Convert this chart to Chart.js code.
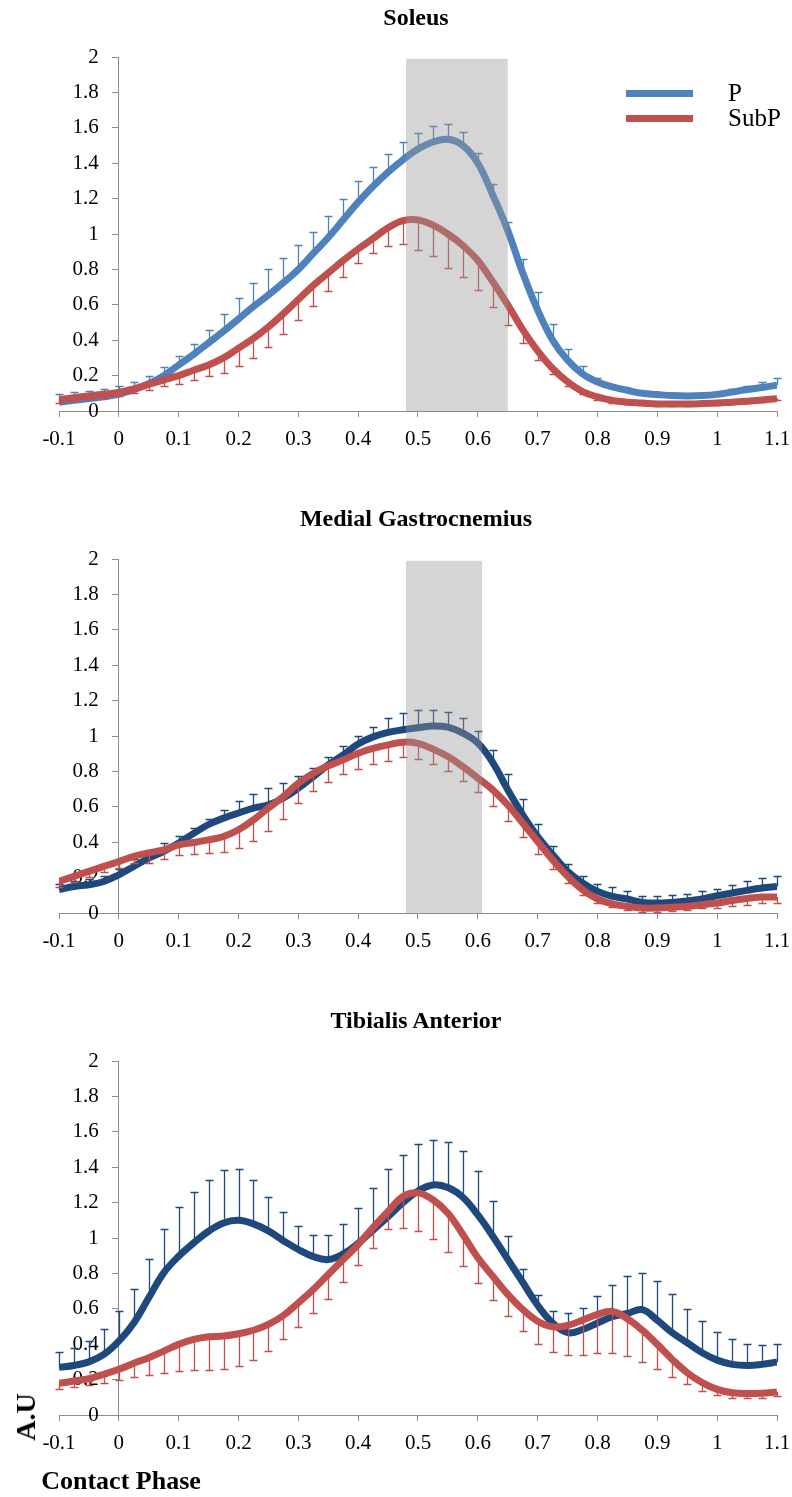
<!DOCTYPE html>
<html>
<head>
<meta charset="utf-8">
<title>Soleus / Medial Gastrocnemius / Tibialis Anterior</title>
<script src="https://cdn.jsdelivr.net/npm/chart.js@4.4.1/dist/chart.umd.min.js"></script>
<style>
  body { margin: 0; background: #fff; }
  #page { position: relative; width: 792px; height: 1497px; font-family: "Liberation Serif", "Times New Roman", serif; color: #000; }
  .panel { position: absolute; left: 0; width: 792px; height: 502px; }
  .panel canvas { position: absolute; left: 0; top: 0; }
  .txt { position: absolute; line-height: 1; white-space: nowrap; }
  .title { font-weight: bold; font-size: 24px; transform: translate(-50%, -50%); }
  .legbar { position: absolute; width: 67px; height: 7px; }
  .leglabel { font-size: 25px; transform: translateY(-50%); }
</style>
</head>
<body>
<div id="page">
  <div class="panel" style="top:0px"><canvas id="c1" width="792" height="502"></canvas></div>
  <div class="panel" style="top:502px"><canvas id="c2" width="792" height="502"></canvas></div>
  <div class="panel" style="top:1004px"><canvas id="c3" width="792" height="502"></canvas></div>

  <div class="txt title" style="left:416px; top:16.5px">Soleus</div>
  <div class="txt title" style="left:416px; top:518px">Medial Gastrocnemius</div>
  <div class="txt title" style="left:416px; top:1020px">Tibialis Anterior</div>

  <div id="legend"></div>

  <div class="txt" style="left:26px; top:1417px; font-weight:bold; font-size:28px; transform: translate(-50%, -50%) rotate(-90deg);">A.U</div>
  <div class="txt" style="left:121px; top:1481px; font-weight:bold; font-size:26px; transform: translate(-50%, -50%);">Contact Phase</div>
</div>

<script>
// contact phase, one point every 0.025
const phase = [-0.1, -0.075, -0.05, -0.025, 0, 0.025, 0.05, 0.075, 0.1, 0.125, 0.15, 0.175, 0.2, 0.225,
  0.25, 0.275, 0.3, 0.325, 0.35, 0.375, 0.4, 0.425, 0.45, 0.475, 0.5, 0.525, 0.55, 0.575, 0.6, 0.625,
  0.65, 0.675, 0.7, 0.725, 0.75, 0.775, 0.8, 0.825, 0.85, 0.875, 0.9, 0.925, 0.95, 0.975, 1, 1.025,
  1.05, 1.075, 1.1];

const xTicks = [-0.1, 0, 0.1, 0.2, 0.3, 0.4, 0.5, 0.6, 0.7, 0.8, 0.9, 1, 1.1];
const yTicks = [0, 0.2, 0.4, 0.6, 0.8, 1, 1.2, 1.4, 1.6, 1.8, 2];
const seriesNames = ['P', 'SubP'];

// Soleus
const soleusP = [0.05, 0.06, 0.07, 0.08, 0.095, 0.12, 0.155, 0.20, 0.26, 0.32, 0.385, 0.45, 0.52, 0.59,
  0.655, 0.725, 0.80, 0.89, 0.98, 1.08, 1.18, 1.27, 1.35, 1.42, 1.48, 1.52, 1.535, 1.50, 1.40, 1.22,
  1.02, 0.78, 0.57, 0.40, 0.287, 0.21, 0.164, 0.136, 0.117, 0.10, 0.093, 0.087, 0.085, 0.087, 0.094,
  0.107, 0.121, 0.133, 0.145];
const soleusPErr = [0.045, 0.045, 0.045, 0.045, 0.045, 0.045, 0.045, 0.05, 0.05, 0.06, 0.075, 0.10, 0.12,
  0.135, 0.145, 0.14, 0.137, 0.12, 0.12, 0.116, 0.12, 0.11, 0.10, 0.10, 0.09, 0.09, 0.085, 0.075, 0.056,
  0.06, 0.05, 0.08, 0.10, 0.094, 0.066, 0.043, 0.023, 0.01, 0.01, 0.01, 0.01, 0.01, 0.01, 0.01, 0.012,
  0.02, 0.023, 0.03, 0.04];
const soleusS = [0.065, 0.075, 0.085, 0.095, 0.105, 0.125, 0.15, 0.175, 0.20, 0.23, 0.26, 0.30, 0.355,
  0.41, 0.475, 0.55, 0.63, 0.71, 0.78, 0.85, 0.915, 0.975, 1.035, 1.075, 1.08, 1.05, 1.00, 0.935, 0.85,
  0.73, 0.60, 0.46, 0.34, 0.24, 0.165, 0.11, 0.08, 0.06, 0.05, 0.045, 0.04, 0.04, 0.04, 0.042, 0.045,
  0.05, 0.055, 0.062, 0.07];
const soleusSErr = [0.02, 0.02, 0.02, 0.02, 0.02, 0.025, 0.03, 0.035, 0.045, 0.056, 0.064, 0.083, 0.10,
  0.11, 0.113, 0.113, 0.117, 0.118, 0.103, 0.094, 0.08, 0.085, 0.10, 0.13, 0.17, 0.175, 0.19, 0.18,
  0.167, 0.142, 0.115, 0.075, 0.05, 0.033, 0.022, 0.016, 0.02, 0.015, 0.01, 0.01, 0.01, 0.01, 0.01,
  0.01, 0.01, 0.01, 0.01, 0.01, 0.01];
const soleusBand = [0.48, 0.65];

// Medial Gastrocnemius
const gastroP = [0.132, 0.15, 0.16, 0.178, 0.216, 0.263, 0.31, 0.348, 0.395, 0.45, 0.50, 0.536, 0.565,
  0.593, 0.611, 0.65, 0.705, 0.77, 0.837, 0.893, 0.955, 0.995, 1.02, 1.035, 1.047, 1.057, 1.05, 1.016,
  0.96, 0.85, 0.696, 0.555, 0.432, 0.33, 0.235, 0.17, 0.122, 0.094, 0.079, 0.06, 0.056, 0.06, 0.068,
  0.079, 0.098, 0.113, 0.128, 0.141, 0.15];
const gastroPErr = [0.03, 0.03, 0.03, 0.03, 0.035, 0.042, 0.043, 0.047, 0.041, 0.03, 0.032, 0.047, 0.065,
  0.079, 0.094, 0.087, 0.07, 0.052, 0.043, 0.05, 0.045, 0.058, 0.08, 0.093, 0.10, 0.09, 0.087, 0.084,
  0.07, 0.07, 0.09, 0.088, 0.07, 0.046, 0.042, 0.037, 0.043, 0.051, 0.047, 0.034, 0.038, 0.04, 0.041,
  0.043, 0.037, 0.047, 0.05, 0.056, 0.057];
const gastroS = [0.178, 0.207, 0.235, 0.263, 0.29, 0.32, 0.34, 0.357, 0.385, 0.398, 0.413, 0.432, 0.47,
  0.526, 0.593, 0.658, 0.733, 0.79, 0.831, 0.865, 0.903, 0.93, 0.95, 0.965, 0.958, 0.926, 0.884, 0.827,
  0.762, 0.696, 0.611, 0.508, 0.404, 0.30, 0.207, 0.131, 0.079, 0.052, 0.037, 0.028, 0.028, 0.032,
  0.037, 0.047, 0.056, 0.071, 0.082, 0.09, 0.09];
const gastroSErr = [0.03, 0.03, 0.03, 0.03, 0.035, 0.04, 0.06, 0.05, 0.06, 0.065, 0.075, 0.085, 0.10,
  0.12, 0.13, 0.126, 0.11, 0.10, 0.09, 0.08, 0.09, 0.09, 0.09, 0.085, 0.09, 0.083, 0.08, 0.08, 0.08,
  0.09, 0.09, 0.08, 0.07, 0.05, 0.04, 0.03, 0.025, 0.02, 0.02, 0.02, 0.02, 0.02, 0.02, 0.02, 0.025,
  0.03, 0.035, 0.035, 0.035];
const gastroBand = [0.48, 0.607];

// Tibialis Anterior
const tibialisP = [0.27, 0.28, 0.30, 0.342, 0.417, 0.52, 0.662, 0.803, 0.897, 0.972, 1.038, 1.085, 1.10,
  1.08, 1.04, 0.985, 0.935, 0.895, 0.878, 0.91, 0.97, 1.045, 1.12, 1.20, 1.265, 1.30, 1.285, 1.23, 1.13,
  1.01, 0.88, 0.75, 0.62, 0.52, 0.465, 0.483, 0.52, 0.555, 0.574, 0.595, 0.535, 0.465, 0.408, 0.352,
  0.31, 0.286, 0.28, 0.286, 0.299];
const tibialisPErr = [0.085, 0.10, 0.12, 0.145, 0.17, 0.19, 0.22, 0.25, 0.28, 0.29, 0.29, 0.30, 0.29,
  0.25, 0.19, 0.16, 0.13, 0.12, 0.14, 0.17, 0.20, 0.235, 0.27, 0.27, 0.267, 0.255, 0.255, 0.26, 0.25,
  0.20, 0.13, 0.076, 0.06, 0.07, 0.11, 0.12, 0.15, 0.18, 0.21, 0.21, 0.22, 0.22, 0.19, 0.18, 0.16,
  0.145, 0.12, 0.11, 0.10];
const tibialisS = [0.179, 0.192, 0.205, 0.23, 0.258, 0.292, 0.324, 0.361, 0.399, 0.427, 0.442, 0.446,
  0.459, 0.479, 0.512, 0.562, 0.634, 0.709, 0.794, 0.878, 0.963, 1.06, 1.15, 1.235, 1.255, 1.216, 1.14,
  1.02, 0.888, 0.784, 0.681, 0.596, 0.53, 0.498, 0.506, 0.536, 0.568, 0.585, 0.544, 0.479, 0.399,
  0.314, 0.239, 0.183, 0.145, 0.126, 0.121, 0.123, 0.13];
const tibialisSErr = [0.03, 0.034, 0.038, 0.047, 0.062, 0.078, 0.10, 0.126, 0.151, 0.173, 0.188, 0.184,
  0.183, 0.169, 0.151, 0.135, 0.135, 0.132, 0.138, 0.128, 0.113, 0.116, 0.10, 0.18, 0.217, 0.22, 0.22,
  0.18, 0.14, 0.135, 0.123, 0.122, 0.127, 0.14, 0.168, 0.196, 0.22, 0.237, 0.211, 0.18, 0.141, 0.097,
  0.066, 0.048, 0.034, 0.028, 0.027, 0.025, 0.023];

const lightBlue = '#4F81BD';
const darkBlue = '#1F497D';
const red = '#C0504D';
const axisGray = '#8c8c8c';
const yLabelEdge = -0.0335; // right edge of the y tick labels, in phase units

Chart.defaults.font.family = '"Liberation Serif", "Times New Roman", serif';
Chart.defaults.color = '#000';

const fmt = v => String(Math.round(v * 10) / 10);

// vertical error bars, one direction only (P up, SubP down)
const errorBars = {
  id: 'errorBars',
  afterDatasetDraw(chart, args) {
    const ds = chart.data.datasets[args.index];
    if (!ds.errors) return;
    const xs = chart.scales.x, ys = chart.scales.y, ctx = chart.ctx;
    ctx.save();
    ctx.strokeStyle = ds.borderColor;
    ctx.lineWidth = 1.3;
    ds.data.forEach((p, i) => {
      const px = Math.round(xs.getPixelForValue(p.x)) + 0.5;
      const y0 = ys.getPixelForValue(p.y);
      const y1 = Math.round(ys.getPixelForValue(p.y + ds.errDir * ds.errors[i])) + 0.5;
      ctx.beginPath();
      ctx.moveTo(px, y0);
      ctx.lineTo(px, y1);
      ctx.moveTo(px - 4, y1);
      ctx.lineTo(px + 4, y1);
      ctx.stroke();
    });
    ctx.restore();
  }
};

// grey translucent band drawn over the curves
const bandShade = {
  id: 'bandShade',
  afterDatasetsDraw(chart, args, opts) {
    if (!opts.range) return;
    const xs = chart.scales.x, ys = chart.scales.y, ctx = chart.ctx;
    const l = xs.getPixelForValue(opts.range[0]);
    const r = xs.getPixelForValue(opts.range[1]);
    const t = ys.getPixelForValue(opts.top);
    const b = ys.getPixelForValue(0);
    ctx.save();
    ctx.fillStyle = opts.color;
    ctx.fillRect(l, t, r - l, b - t);
    ctx.restore();
  }
};

function series(values, errors, dir, color, label, order) {
  return {
    label: label,
    data: phase.map((x, i) => ({ x: x, y: values[i] })),
    errors: errors,
    errDir: dir,
    borderColor: color,
    borderWidth: 7,
    borderCapStyle: 'butt',
    borderJoinStyle: 'round',
    pointRadius: 0,
    tension: 0.4,
    fill: false,
    order: order,
    clip: { left: 0, right: 0, top: 10, bottom: 10 }
  };
}

function makePanel(id, pVals, pErr, sVals, sErr, pColor, band) {
  new Chart(document.getElementById(id), {
    type: 'line',
    data: {
      datasets: [
        series(pVals, pErr, 1, pColor, seriesNames[0], 1),
        series(sVals, sErr, -1, red, seriesNames[1], 0)
      ]
    },
    options: {
      responsive: false,
      animation: false,
      layout: { padding: { left: 59, right: 15, top: 57, bottom: 0 } },
      plugins: {
        legend: { display: false },
        tooltip: { enabled: false },
        bandShade: band ? { range: band, top: 1.99, color: 'rgba(150,150,150,0.4)' } : false
      },
      scales: {
        x: {
          type: 'linear',
          min: -0.1,
          max: 1.1,
          afterBuildTicks: s => { s.ticks = xTicks.map(v => ({ value: v })); },
          afterFit: s => { s.height = 91; s.paddingLeft = 0; s.paddingRight = 0; },
          grid: { drawOnChartArea: false, drawTicks: true, tickLength: 6, color: axisGray },
          border: { color: axisGray, width: 1 },
          ticks: { font: { size: 21 }, padding: 10, maxRotation: 0, autoSkip: false, callback: v => fmt(v) }
        },
        // axis line + tick marks through x = 0
        y: {
          type: 'linear',
          min: 0,
          max: 2,
          position: { x: 0 },
          afterBuildTicks: s => { s.ticks = yTicks.map(v => ({ value: v })); },
          grid: { drawOnChartArea: false, drawTicks: true, tickLength: 6, color: axisGray },
          border: { color: axisGray, width: 1 },
          ticks: { display: false }
        },
        // tick labels, right-aligned a little left of the axis
        yLabels: {
          type: 'linear',
          min: 0,
          max: 2,
          position: { x: yLabelEdge },
          afterBuildTicks: s => { s.ticks = yTicks.map(v => ({ value: v })); },
          grid: { display: false },
          border: { display: false },
          ticks: { font: { size: 21 }, autoSkip: false, callback: v => fmt(v) }
        }
      }
    },
    plugins: [errorBars, bandShade]
  });
}

makePanel('c1', soleusP, soleusPErr, soleusS, soleusSErr, lightBlue, soleusBand);
makePanel('c2', gastroP, gastroPErr, gastroS, gastroSErr, darkBlue, gastroBand);
makePanel('c3', tibialisP, tibialisPErr, tibialisS, tibialisSErr, darkBlue, null);

// legend (top panel only)
const legend = document.getElementById('legend');
[[seriesNames[0], lightBlue, 93], [seriesNames[1], red, 118]].forEach(([name, color, y]) => {
  const bar = document.createElement('div');
  bar.className = 'legbar';
  bar.style.left = '626px';
  bar.style.top = (y - 3.5) + 'px';
  bar.style.background = color;
  legend.appendChild(bar);
  const lab = document.createElement('div');
  lab.className = 'txt leglabel';
  lab.style.left = '728px';
  lab.style.top = (y - 1) + 'px';
  lab.textContent = name;
  legend.appendChild(lab);
});
</script>
</body>
</html>
